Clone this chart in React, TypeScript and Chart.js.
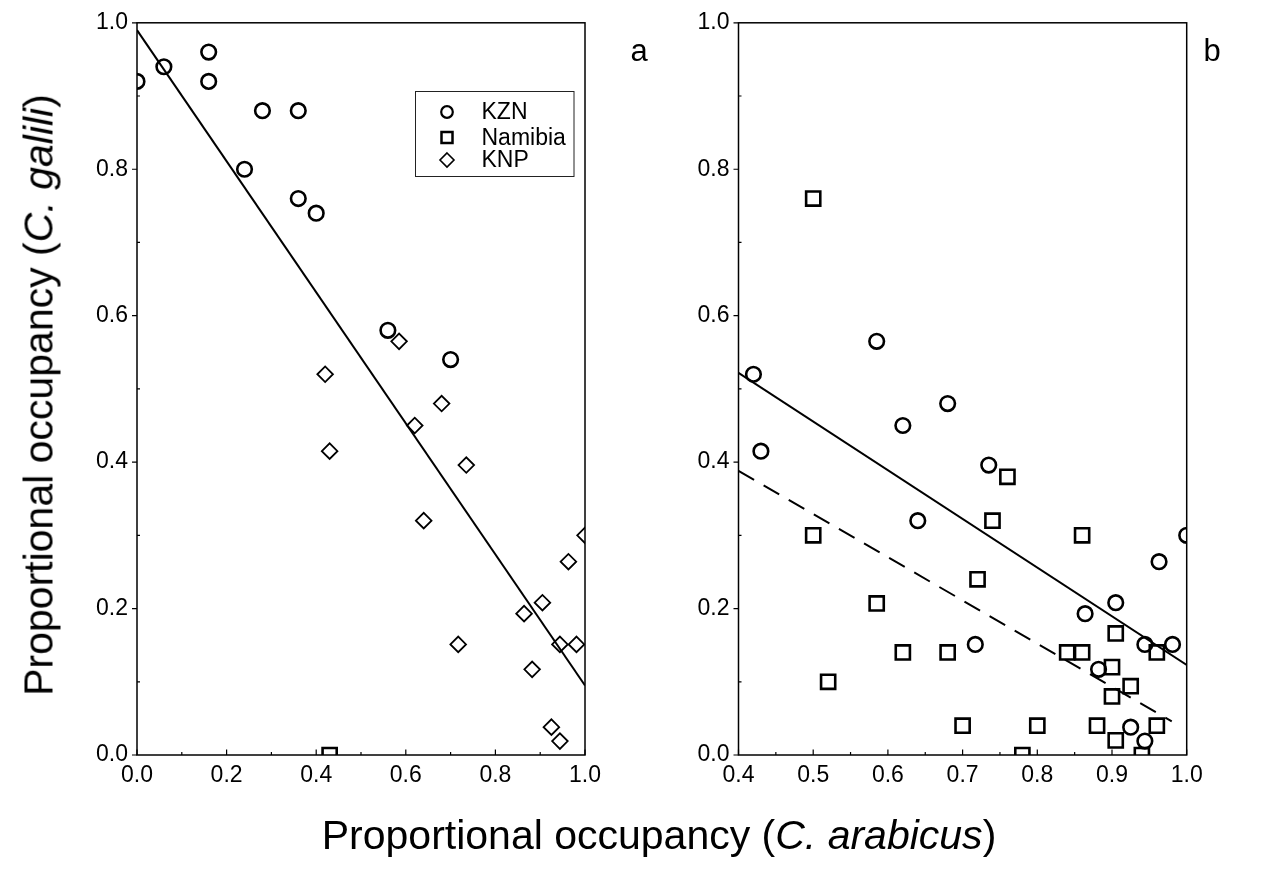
import React, { useEffect, useRef } from 'react';
import { Chart, registerables } from 'chart.js';

Chart.register(...registerables);

const FONT = '"Liberation Sans", Arial, Helvetica, sans-serif';

// ---------- Panel a ----------
const kznAX = [0.0, 0.06, 0.16, 0.16, 0.28, 0.36, 0.24, 0.36, 0.40, 0.56, 0.70];
const kznAY = [0.92, 0.94, 0.96, 0.92, 0.88, 0.88, 0.80, 0.76, 0.74, 0.58, 0.54];
const knpX = [0.585, 0.42, 0.43, 0.62, 0.68, 0.735, 0.64, 0.717, 0.864, 0.905, 0.882, 0.963, 1.0, 0.944, 0.981, 0.925, 0.944];
const knpY = [0.565, 0.52, 0.415, 0.45, 0.48, 0.396, 0.32, 0.151, 0.193, 0.208, 0.117, 0.264, 0.30, 0.151, 0.151, 0.038, 0.019];
const namAX = [0.43];
const namAY = [0.0];
const fitAX = [0.0, 1.0];
const fitAY = [0.99, 0.095];

// ---------- Panel b ----------
const namX = [0.50, 0.50, 0.52, 0.585, 0.62, 0.68, 0.70, 0.72, 0.74, 0.76, 0.78, 0.80, 0.84, 0.86, 0.86, 0.88, 0.90, 0.90, 0.905, 0.905, 0.925, 0.94, 0.96, 0.96];
const namY = [0.76, 0.30, 0.10, 0.207, 0.14, 0.14, 0.04, 0.24, 0.32, 0.38, 0.0, 0.04, 0.14, 0.14, 0.30, 0.04, 0.12, 0.08, 0.166, 0.02, 0.094, 0.0, 0.14, 0.04];
const fitKnpX = [0.4, 1.0];
const fitKnpY = [0.522, 0.123];
const fitNamX = [0.4, 0.98];
const fitNamY = [0.388, 0.046];

// ---------- Ticks ----------
const xTicksA = [0.0, 0.2, 0.4, 0.6, 0.8, 1.0];
const xMinorA = [0.1, 0.3, 0.5, 0.7, 0.9];
const xTicksB = [0.4, 0.5, 0.6, 0.7, 0.8, 0.9, 1.0];
const xMinorB = [0.45, 0.55, 0.65, 0.75, 0.85, 0.95];
const yTicks = [0.0, 0.2, 0.4, 0.6, 0.8, 1.0];
const yMinor = [0.1, 0.3, 0.5, 0.7, 0.9];

const legendLabels = ['KZN', 'Namibia', 'KNP'];

const pts = (xs: number[], ys: number[]) => xs.map((x, i) => ({ x, y: ys[i] }));

const frameTicks = {
  id: 'frameTicks',
  afterDraw(chart: any, _a: any, opts: any) {
    const { ctx, chartArea: a, scales } = chart;
    const x = scales.x, y = scales.y;
    ctx.save();
    ctx.strokeStyle = '#000';
    ctx.lineWidth = 1.2;
    ctx.beginPath();
    (opts.xMajor || []).forEach((v: number) => {
      const p = x.getPixelForValue(v);
      ctx.moveTo(p, a.bottom); ctx.lineTo(p, a.bottom - 5.5);
    });
    (opts.xMinor || []).forEach((v: number) => {
      const p = x.getPixelForValue(v);
      ctx.moveTo(p, a.bottom); ctx.lineTo(p, a.bottom - 3);
    });
    (opts.yMajor || []).forEach((v: number) => {
      const p = y.getPixelForValue(v);
      ctx.moveTo(a.left, p); ctx.lineTo(a.left - 5, p);
    });
    (opts.yMinor || []).forEach((v: number) => {
      const p = y.getPixelForValue(v);
      ctx.moveTo(a.left, p); ctx.lineTo(a.left + 3, p);
    });
    ctx.stroke();
    ctx.lineWidth = 1.5;
    ctx.strokeRect(a.left, a.top, a.right - a.left, a.bottom - a.top);
    ctx.restore();
  },
};

const boxLegend = {
  id: 'boxLegend',
  afterDraw(chart: any, _a: any, opts: any) {
    if (!opts || !opts.show) return;
    const ctx = chart.ctx;
    ctx.save();
    ctx.strokeStyle = '#222';
    ctx.lineWidth = 1;
    ctx.strokeRect(415.5, 91.5, 158.5, 85);
    const mx = 447;
    const rows = [112, 137.5, 160];
    ctx.strokeStyle = '#000';
    // circle
    ctx.lineWidth = 2.2;
    ctx.beginPath();
    ctx.arc(mx, rows[0], 5.8, 0, Math.PI * 2);
    ctx.stroke();
    // square
    ctx.lineWidth = 2.5;
    ctx.strokeRect(mx - 5.5, rows[1] - 5.5, 11, 11);
    // diamond
    ctx.lineWidth = 1.6;
    ctx.beginPath();
    ctx.moveTo(mx, rows[2] - 7);
    ctx.lineTo(mx + 7, rows[2]);
    ctx.lineTo(mx, rows[2] + 7);
    ctx.lineTo(mx - 7, rows[2]);
    ctx.closePath();
    ctx.stroke();
    ctx.fillStyle = '#000';
    ctx.font = `23px ${FONT}`;
    ctx.textBaseline = 'middle';
    ctx.textAlign = 'left';
    legendLabels.forEach((t, i) => ctx.fillText(t, 481.5, rows[i] + 1));
    ctx.restore();
  },
};

const H = 877;
const BOTTOM = 755;

function scaleX(min: number, max: number, ticks: number[]) {
  return {
    type: 'linear',
    min,
    max,
    afterBuildTicks: (s: any) => { s.ticks = ticks.map((v) => ({ value: v })); },
    afterFit: (s: any) => { s.height = H - BOTTOM; },
    ticks: {
      font: { family: FONT, size: 23 },
      color: '#000',
      padding: 7,
      maxRotation: 0,
      autoSkip: false,
      callback: (v: any) => Number(v).toFixed(1),
    },
    grid: { display: false, drawTicks: false },
    border: { display: false },
  };
}

function scaleY(width: number) {
  return {
    type: 'linear',
    min: 0,
    max: 1,
    afterBuildTicks: (s: any) => { s.ticks = yTicks.map((v) => ({ value: v })); },
    afterFit: (s: any) => { s.width = width; },
    ticks: {
      font: { family: FONT, size: 23 },
      color: '#000',
      padding: 9,
      autoSkip: false,
      callback: (v: any) => Number(v).toFixed(1),
    },
    grid: { display: false, drawTicks: false },
    border: { display: false },
  };
}

const lineDs = (data: any, dash: number[] = []) => ({
  data,
  showLine: true,
  borderColor: '#000',
  borderWidth: 2,
  borderDash: dash,
  pointRadius: 0,
  fill: false,
  clip: 0,
});

const markDs = (data: any, style: string, r: number, bw: number) => ({
  data,
  showLine: false,
  pointStyle: style,
  pointRadius: r,
  pointBorderWidth: bw,
  pointBorderColor: '#000',
  pointBackgroundColor: 'rgba(0,0,0,0)',
  borderColor: '#000',
  backgroundColor: 'rgba(0,0,0,0)',
  clip: 0,
});

function configA(): any {
  return {
    type: 'scatter',
    data: {
      datasets: [
        lineDs(pts(fitAX, fitAY)),
        markDs(pts(kznAX, kznAY), 'circle', 7.3, 2.6),
        markDs(pts(namAX, namAY), 'rect', 10, 2.6),
        markDs(pts(knpX, knpY), 'rectRot', 7.8, 1.8),
      ],
    },
    options: {
      responsive: false,
      animation: false,
      events: [],
      layout: { padding: { top: 16.5, left: 0, right: 620 - 585, bottom: 0 } },
      scales: { x: scaleX(0, 1, xTicksA), y: scaleY(137) },
      plugins: {
        legend: { display: false },
        tooltip: { enabled: false },
        frameTicks: { xMajor: xTicksA, xMinor: xMinorA, yMajor: yTicks, yMinor },
        boxLegend: { show: true },
      },
    },
    plugins: [frameTicks, boxLegend],
  };
}

function configB(): any {
  return {
    type: 'scatter',
    data: {
      datasets: [
        lineDs(pts(fitKnpX, fitKnpY)),
        lineDs(pts(fitNamX, fitNamY), [18, 11]),
        markDs(pts(knpX, knpY), 'circle', 7.3, 2.6),
        markDs(pts(namX, namY), 'rect', 10, 2.6),
      ],
    },
    options: {
      responsive: false,
      animation: false,
      events: [],
      layout: { padding: { top: 16.5, left: 0, right: 644 - (1186.7 - 620), bottom: 0 } },
      scales: { x: scaleX(0.4, 1, xTicksB), y: scaleY(738.5 - 620) },
      plugins: {
        legend: { display: false },
        tooltip: { enabled: false },
        frameTicks: { xMajor: xTicksB, xMinor: xMinorB, yMajor: yTicks, yMinor },
        boxLegend: { show: false },
      },
    },
    plugins: [frameTicks, boxLegend],
  };
}

export default function App() {
  const leftRef = useRef<HTMLCanvasElement>(null);
  const rightRef = useRef<HTMLCanvasElement>(null);

  useEffect(() => {
    const c1 = new Chart(leftRef.current as HTMLCanvasElement, configA());
    const c2 = new Chart(rightRef.current as HTMLCanvasElement, configB());
    return () => {
      c1.destroy();
      c2.destroy();
    };
  }, []);

  const titleSize = 41;
  return (
    <div style={{ position: 'absolute', left: 0, top: 0, width: 1264, height: 877, background: '#fff', fontFamily: FONT, color: '#000', overflow: 'hidden' }}>
      <canvas ref={leftRef} width={620} height={H} style={{ position: 'absolute', left: 0, top: 0, width: 620, height: H }} />
      <canvas ref={rightRef} width={644} height={H} style={{ position: 'absolute', left: 620, top: 0, width: 644, height: H }} />
      <div style={{ position: 'absolute', left: 639, top: 50, transform: 'translate(-50%, -50%)', fontSize: 31, lineHeight: '31px' }}>a</div>
      <div style={{ position: 'absolute', left: 1212, top: 50, transform: 'translate(-50%, -50%)', fontSize: 31, lineHeight: '31px' }}>b</div>
      <div style={{ position: 'absolute', left: 39, top: 395, transform: 'translate(-50%, -50%) rotate(-90deg)', fontSize: titleSize, lineHeight: `${titleSize}px`, whiteSpace: 'nowrap' }}>
        Proportional occupancy (<i>C. galili</i>)
      </div>
      <div style={{ position: 'absolute', left: 659, top: 835, transform: 'translate(-50%, -50%)', fontSize: titleSize, lineHeight: `${titleSize}px`, whiteSpace: 'nowrap' }}>
        Proportional occupancy (<i>C. arabicus</i>)
      </div>
    </div>
  );
}
